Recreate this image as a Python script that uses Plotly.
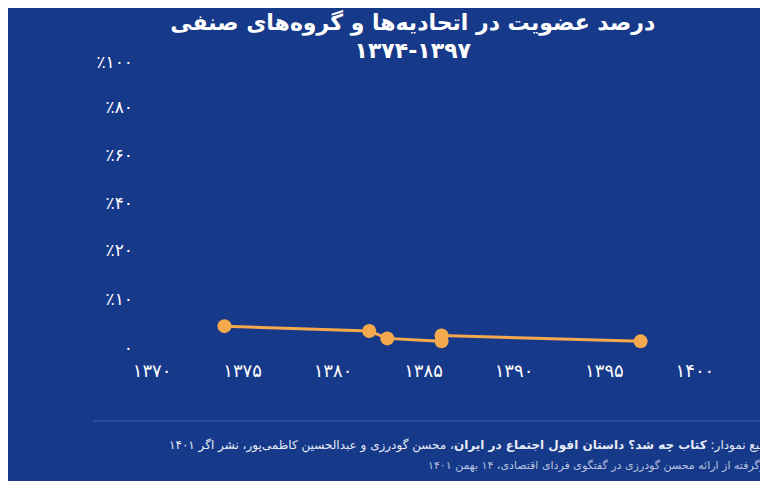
import plotly.graph_objects as go

years = [1374, 1382, 1383, 1386, 1386, 1397]
values = [4.5, 3.5, 2.0, 1.4, 2.6, 1.4]
x_ticks = [1370, 1375, 1380, 1385, 1390, 1395, 1400]
x_labels = ["۱۳۷۰", "۱۳۷۵", "۱۳۸۰", "۱۳۸۵", "۱۳۹۰", "۱۳۹۵", "۱۴۰۰"]
y_ticks = [0, 10, 20, 29.6, 39.4, 49.2, 58.4]
y_labels = ["۰", "٪۱۰", "٪۲۰", "٪۴۰", "٪۶۰", "٪۸۰", "٪۱۰۰"]

bg = "#17398a"
fig = go.Figure(go.Scatter(
    x=years, y=values, mode="lines+markers",
    line=dict(color="#f4a94c", width=3),
    marker=dict(color="#f4a94c", size=14),
))
fig.update_layout(
    width=768, height=481, paper_bgcolor=bg, plot_bgcolor=bg,
    margin=dict(l=126, r=63, t=46, b=131), showlegend=False,
    font=dict(family="DejaVu Sans", color="white"),
    title=dict(text="<b>درصد عضویت در اتحادیه‌ها و گروه‌های صنفی<br>۱۳۷۴-۱۳۹۷</b>",
               x=0.527, xanchor="center", y=0.955, yanchor="top",
               font=dict(size=22, color="white")),
    xaxis=dict(range=[1369, 1401], tickvals=x_ticks, ticktext=x_labels,
               showgrid=False, zeroline=False, showline=False,
               tickfont=dict(size=18, color="white"), ticklen=0),
    yaxis=dict(range=[-2, 60], tickvals=y_ticks, ticktext=y_labels,
               showgrid=False, zeroline=False, showline=False,
               tickfont=dict(size=17, color="white"), ticklen=0),
)
fig.add_shape(type="line", xref="paper", yref="paper", x0=-0.071, x1=1.104,
              y0=-0.207, y1=-0.207, line=dict(color="#3d66c4", width=1))
fig.add_annotation(xref="paper", yref="paper", x=1.10, y=-0.255, xanchor="right", yanchor="top",
                   showarrow=False, align="right", font=dict(size=12, color="#e6ebf5"),
                   text="منبع نمودار: <b>کتاب چه شد؟ داستان افول اجتماع در ایران</b>، محسن گودرزی و عبدالحسین کاظمی‌پور، نشر اگر ۱۴۰۱")
fig.add_annotation(xref="paper", yref="paper", x=1.10, y=-0.325, xanchor="right", yanchor="top",
                   showarrow=False, align="right", font=dict(size=11, color="#b8c4e0"),
                   text="برگرفته از ارائه محسن گودرزی در گفتگوی فردای اقتصادی، ۱۴ بهمن ۱۴۰۱")
fig.write_html("out.html")
